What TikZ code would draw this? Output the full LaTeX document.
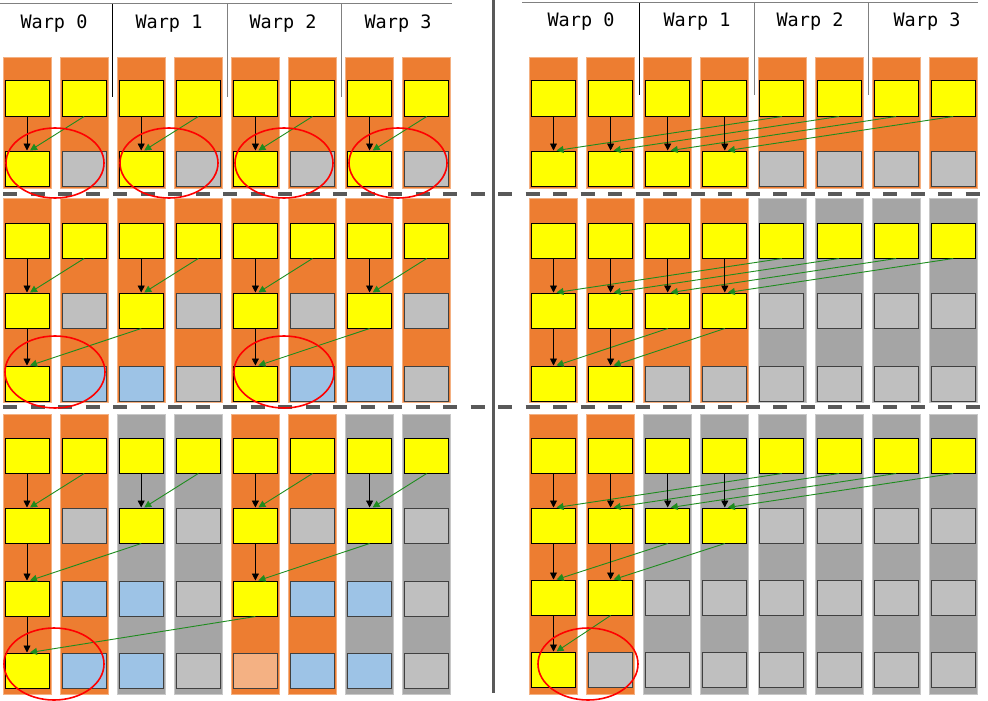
\documentclass[tikz,border=0pt]{standalone}
\usepackage{fontspec}
\setmonofont{DejaVu Sans Mono}
\usetikzlibrary{arrows.meta}
\definecolor{orng}{HTML}{ED7D31}
\definecolor{orngedge}{HTML}{F4B183}
\definecolor{gstrip}{HTML}{A5A5A5}
\definecolor{gedge}{HTML}{C8C8C8}
\definecolor{ylw}{HTML}{FFFF00}
\definecolor{lgry}{HTML}{BFBFBF}
\definecolor{lblu}{HTML}{9DC3E6}
\definecolor{lora}{HTML}{F4B183}
\definecolor{dashgray}{HTML}{595959}
\definecolor{grnarrow}{HTML}{1E8C1E}
\tikzset{
  cell/.style={minimum width=44pt, minimum height=35pt, inner sep=0pt, line width=1pt},
  yel/.style={cell, fill=ylw, draw=black},
  gry/.style={cell, fill=lgry, draw=black!75},
  blu/.style={cell, fill=lblu, draw=black!75},
  ora/.style={cell, fill=lora, draw=black!75},
  ostrip/.style={fill=orng, draw=orngedge, line width=0.8pt},
  gstr/.style={fill=gstrip, draw=gedge, line width=0.8pt},
  blk/.style={draw=black, line width=0.9pt, -{Triangle[length=7pt,width=7pt]}},
  grn/.style={draw=grnarrow, line width=0.9pt, -{Triangle[length=7pt,width=7pt]}},
  ring/.style={draw=red, line width=1.6pt},
  sepline/.style={draw=dashgray, line width=4pt, dash pattern=on 14pt off 13.5pt},
  warp/.style={font=\ttfamily\fontsize{18.5}{22}\selectfont, inner sep=0pt},
  hdr/.style={line width=1pt},
}
\newcommand\mkstrips[4]{%
  \foreach \s [count=\c] in {#4} {\path[\s] ({#1+57.1*(\c-1)},#2) rectangle ++(48,{#3-#2});}}
\newcommand\mkrow[4]{%
  \foreach \s [count=\c] in {#4} {\node[\s] (#1\c) at ({#2+57.1*(\c-1)+24},{#3+17.5}) {};}}
\begin{document}
\begin{tikzpicture}[x=1pt,y=-1pt]
\useasboundingbox (0,0) rectangle (988,701);
% ---------- left panel ----------
\mkstrips{3}{57}{188}{ostrip,ostrip,ostrip,ostrip,ostrip,ostrip,ostrip,ostrip}
\mkstrips{3}{198}{402}{ostrip,ostrip,ostrip,ostrip,ostrip,ostrip,ostrip,ostrip}
\mkstrips{3}{414}{694}{ostrip,ostrip,gstr,gstr,ostrip,ostrip,gstr,gstr}
\mkrow{LA1-}{3}{81}{yel,yel,yel,yel,yel,yel,yel,yel}
\mkrow{LA2-}{3}{151}{yel,gry,yel,gry,yel,gry,yel,gry}
\mkrow{LB1-}{3}{223}{yel,yel,yel,yel,yel,yel,yel,yel}
\mkrow{LB2-}{3}{293}{yel,gry,yel,gry,yel,gry,yel,gry}
\mkrow{LB3-}{3}{366}{yel,blu,blu,gry,yel,blu,blu,gry}
\mkrow{LC1-}{3}{438}{yel,yel,yel,yel,yel,yel,yel,yel}
\mkrow{LC2-}{3}{508}{yel,gry,yel,gry,yel,gry,yel,gry}
\mkrow{LC3-}{3}{581}{yel,blu,blu,gry,yel,blu,blu,gry}
\mkrow{LC4-}{3}{653}{yel,blu,blu,gry,ora,blu,blu,gry}
% ---------- right panel ----------
\mkstrips{529.5}{57}{188}{ostrip,ostrip,ostrip,ostrip,ostrip,ostrip,ostrip,ostrip}
\mkstrips{529.5}{198}{402}{ostrip,ostrip,ostrip,ostrip,gstr,gstr,gstr,gstr}
\mkstrips{529.5}{414}{694}{ostrip,ostrip,gstr,gstr,gstr,gstr,gstr,gstr}
\mkrow{RA1-}{529.5}{81}{yel,yel,yel,yel,yel,yel,yel,yel}
\mkrow{RA2-}{529.5}{151}{yel,yel,yel,yel,gry,gry,gry,gry}
\mkrow{RB1-}{529.5}{223}{yel,yel,yel,yel,yel,yel,yel,yel}
\mkrow{RB2-}{529.5}{293}{yel,yel,yel,yel,gry,gry,gry,gry}
\mkrow{RB3-}{529.5}{366}{yel,yel,gry,gry,gry,gry,gry,gry}
\mkrow{RC1-}{529.5}{438}{yel,yel,yel,yel,yel,yel,yel,yel}
\mkrow{RC2-}{529.5}{508}{yel,yel,yel,yel,gry,gry,gry,gry}
\mkrow{RC3-}{529.5}{580}{yel,yel,gry,gry,gry,gry,gry,gry}
\mkrow{RC4-}{529.5}{652}{yel,gry,gry,gry,gry,gry,gry,gry}
% ---------- arrows left ----------
\foreach \s in {LA,LB,LC} {
  \foreach \c [evaluate=\c as \n using int(\c+1)] in {1,3,5,7} {
    \draw[blk] (\s1-\c.south) -- (\s2-\c.north);
    \draw[grn] (\s1-\n.south) -- ([xshift=3pt]\s2-\c.north);
  }
}
\foreach \s in {LB,LC} {
  \foreach \c [evaluate=\c as \n using int(\c+2)] in {1,5} {
    \draw[blk] (\s2-\c.south) -- (\s3-\c.north);
    \draw[grn] (\s2-\n.south) -- ([xshift=3pt]\s3-\c.north);
  }
}
\draw[blk] (LC3-1.south) -- (LC4-1.north);
\draw[grn] (LC3-5.south) -- ([xshift=3pt]LC4-1.north);
% ---------- arrows right ----------
\foreach \s in {RA,RB,RC} {
  \foreach \c [evaluate=\c as \n using int(\c+4)] in {1,2,3,4} {
    \draw[blk] (\s1-\c.south) -- (\s2-\c.north);
    \draw[grn] (\s1-\n.south) -- ([xshift=3pt]\s2-\c.north);
  }
}
\foreach \s in {RB,RC} {
  \foreach \c [evaluate=\c as \n using int(\c+2)] in {1,2} {
    \draw[blk] (\s2-\c.south) -- (\s3-\c.north);
    \draw[grn] (\s2-\n.south) -- ([xshift=3pt]\s3-\c.north);
  }
}
\draw[blk] (RC3-1.south) -- (RC4-1.north);
\draw[grn] (RC3-2.south) -- ([xshift=3pt]RC4-1.north);
% ---------- separators ----------
\draw[sepline] (3,194) -- (980,194);
\draw[sepline] (3,407) -- (980,407);
\draw[draw=dashgray, line width=3pt] (493,0) -- (493,693);
% ---------- ellipses ----------
\foreach \x in {55,169,284,398} {\draw[ring] (\x,163) ellipse [x radius=49pt, y radius=35pt];}
\foreach \x in {55,284} {\draw[ring] (\x,372) ellipse [x radius=50pt, y radius=36pt];}
\draw[ring] (54,664) ellipse [x radius=50pt, y radius=36pt];
\draw[ring] (588,664) ellipse [x radius=50pt, y radius=36pt];
% ---------- headers ----------
\draw[hdr, draw=gray] (0,4) -- (452,4);
\draw[hdr, draw=black] (112,4) -- (112,97);
\draw[hdr, draw=gray] (227,4) -- (227,97);
\draw[hdr, draw=gray] (341,4) -- (341,97);
\node[warp] (lw0) at (54,24) {Warp 0};
\node[warp] (lw1) at (169,24) {Warp 1};
\node[warp] (lw2) at (283,24) {Warp 2};
\node[warp] (lw3) at (398,24) {Warp 3};
\draw[hdr, draw=gray] (522,3) -- (978,3);
\draw[hdr, draw=black] (639,3) -- (639,95);
\draw[hdr, draw=gray] (754,3) -- (754,95);
\draw[hdr, draw=gray] (868,3) -- (868,95);
\node[warp] (rw0) at (581,22) {Warp 0};
\node[warp] (rw1) at (697,22) {Warp 1};
\node[warp] (rw2) at (810,22) {Warp 2};
\node[warp] (rw3) at (927,22) {Warp 3};
\end{tikzpicture}
\end{document}
